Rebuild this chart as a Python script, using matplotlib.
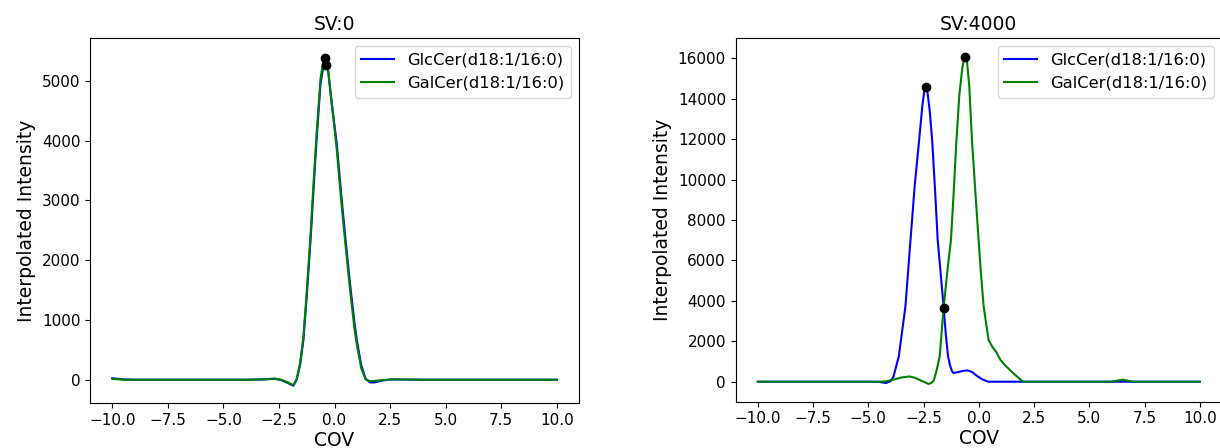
import numpy as np
import matplotlib
matplotlib.use("Agg")
import matplotlib.pyplot as plt

# SV:0 - both isomers co-elute
cov_sv0_glc = [-10, -9.5, -9, -8, -6, -4, -3.2, -2.7, -2.4, -2.1, -1.85, -1.7, -1.55, -1.4,
               -1.25, -1.08, -0.95, -0.81, -0.63, -0.52, -0.4, -0.28, -0.15, 0.0, 0.1, 0.3,
               0.5, 0.7, 0.9, 1.0, 1.2, 1.4, 1.6, 1.8, 2.2, 2.6, 4, 6, 8, 10]
int_sv0_glc = [30, 10, 5, 5, 5, 5, 10, 20, 0, -50, -95, 10, 250, 670,
               1400, 2330, 3150, 4000, 4950, 5200, 5270, 5150, 4700, 4250, 3950, 3100,
               2330, 1600, 950, 670, 250, 20, -40, -40, -5, 10, 5, 5, 5, 5]

cov_sv0_gal = [-10, -9.5, -9, -8, -6, -4, -3.2, -2.7, -2.4, -2.1, -1.85, -1.7, -1.55, -1.4,
               -1.25, -1.08, -0.95, -0.81, -0.63, -0.52, -0.42, -0.3, -0.15, 0.0, 0.1, 0.3,
               0.5, 0.7, 0.9, 1.0, 1.2, 1.4, 1.6, 1.8, 2.2, 2.6, 4, 6, 8, 10]
int_sv0_gal = [20, 5, 5, 5, 5, 5, 10, 25, 5, -40, -85, 20, 280, 720,
               1480, 2420, 3250, 4100, 5030, 5300, 5380, 5220, 4700, 4200, 3850, 3000,
               2230, 1500, 850, 600, 200, 10, -20, -15, 0, 10, 5, 5, 5, 5]

# SV:4000 - separated
cov_sv4000_glc = [-10, -8, -6, -5, -4.5, -4.2, -4.0, -3.86, -3.62, -3.32, -3.09, -2.9, -2.7,
                  -2.55, -2.47, -2.4, -2.32, -2.22, -2.11, -1.98, -1.86, -1.72, -1.59, -1.49,
                  -1.39, -1.3, -1.21, -1.14, -0.95, -0.75, -0.51, -0.3, -0.1, 0.15, 0.43, 1,
                  2, 4, 6, 8, 10]
int_sv4000_glc = [0, 0, 0, 0, -10, -65, 20, 250, 1250, 3720, 7015, 9700, 11950,
                  13700, 14350, 14590, 14300, 13400, 11950, 9500, 7015, 5300, 3670, 2300,
                  1250, 800, 510, 430, 470, 530, 560, 480, 300, 120, 0, 0,
                  0, 0, 0, 0, 0]

cov_sv4000_gal = [-10, -8, -6, -5, -4.45, -4.2, -3.8, -3.5, -3.14, -2.9, -2.6, -2.27, -2.15,
                  -2.04, -1.9, -1.77, -1.59, -1.42, -1.26, -1.14, -1.02, -0.88, -0.75, -0.68,
                  -0.61, -0.53, -0.43, -0.31, -0.15, -0.01, 0.1, 0.22, 0.44, 0.6, 0.8, 0.97,
                  1.2, 1.57, 2.0, 3, 4, 5, 6, 6.5, 7, 8, 10]
int_sv4000_gal = [0, 0, 0, 0, 0, 20, 120, 210, 260, 200, 50, -110, -60,
                  50, 600, 1250, 3670, 5500, 7015, 9300, 11800, 14200, 15500, 15900,
                  16070, 15800, 14600, 11950, 9300, 7015, 5300, 3720, 2070, 1745, 1450, 1090,
                  800, 410, 0, 0, 0, 0, 0, 100, 0, 0, 0]

# point where the two curves cross at SV:4000
cross_cov = -1.59
cross_int = 3670

labels = ["GlcCer(d18:1/16:0)", "GalCer(d18:1/16:0)"]

fig = plt.figure(figsize=(12.2, 4.48), dpi=100)
ax1 = fig.add_axes([0.0738, 0.1004, 0.4008, 0.8147])
ax2 = fig.add_axes([0.603, 0.1033, 0.3986, 0.8118])


def draw(ax, x1, y1, x2, y2, title, ylim):
    ax.plot(x1, y1, color="b", lw=1.5, label=labels[0])
    ax.plot(x2, y2, color="g", lw=1.5, label=labels[1])
    i1 = int(np.argmax(y1))
    i2 = int(np.argmax(y2))
    ax.plot(x1[i1], y1[i1], "ko", ms=6)
    ax.plot(x2[i2], y2[i2], "ko", ms=6)
    ax.set_xlim(-11, 11)
    ax.set_ylim(*ylim)
    ax.set_title(title, fontsize=13.5)
    ax.set_xlabel("COV", fontsize=13.5, labelpad=2)
    ax.set_ylabel("Interpolated Intensity", fontsize=13.5)
    ax.tick_params(labelsize=11)
    ax.legend(loc="upper right", fontsize=11.8)


draw(ax1, cov_sv0_glc, int_sv0_glc, cov_sv0_gal, int_sv0_gal, "SV:0", (-384, 5713))
draw(ax2, cov_sv4000_glc, int_sv4000_glc, cov_sv4000_gal, int_sv4000_gal, "SV:4000", (-990, 17005))
ax2.plot(cross_cov, cross_int, "ko", ms=6)

fig.savefig("out.png", dpi=100)
